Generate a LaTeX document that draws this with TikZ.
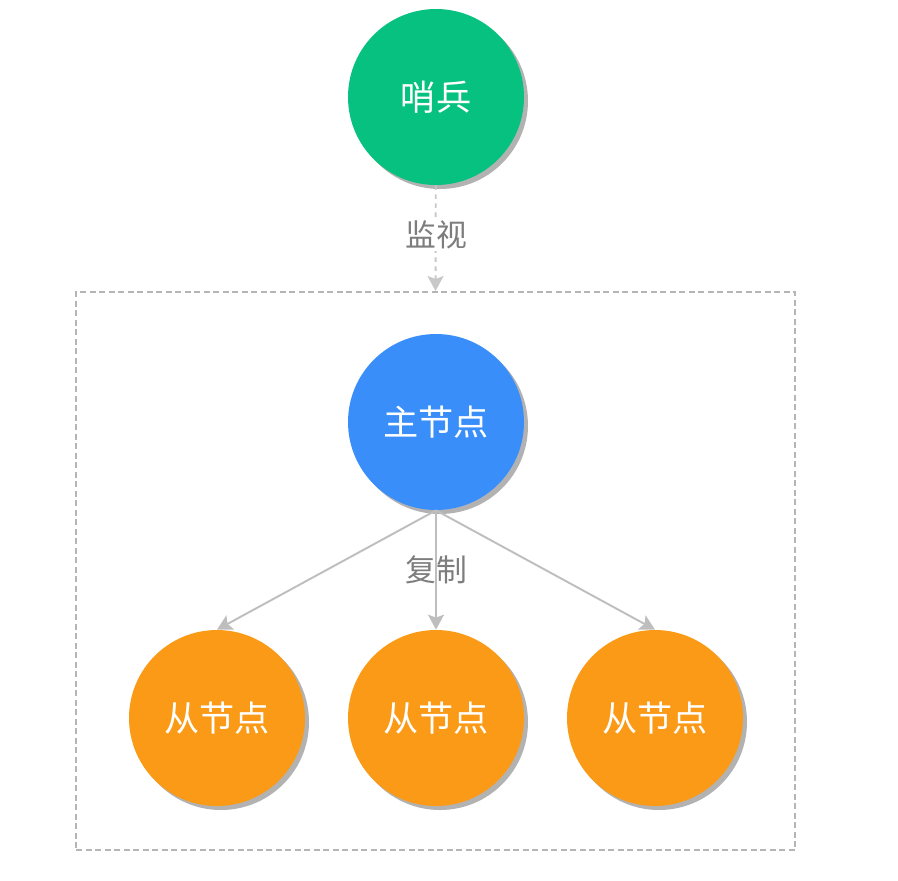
\documentclass[tikz,border=0pt]{standalone}
\usepackage{fontspec}
\setmainfont{Noto Sans CJK SC}
\usetikzlibrary{arrows.meta, positioning, shadows}
\definecolor{sentgreen}{RGB}{7,193,128}
\definecolor{masterblue}{RGB}{58,142,250}
\definecolor{slaveorange}{RGB}{250,154,22}
\definecolor{linegray}{RGB}{190,190,190}
\definecolor{labelgray}{RGB}{125,125,125}

\tikzset{
    rolenode/.style={circle, minimum size=3.52cm, inner sep=0pt, text=white,
        font=\fontsize{20}{24}\selectfont,
        drop shadow={shadow xshift=0.08cm, shadow yshift=-0.08cm, fill=black!30, opacity=1}},
    edgelabel/.style={text=labelgray, font=\fontsize{17.5}{20}\selectfont},
    arrowline/.style={draw=linegray, line width=1.1pt, -{Stealth[length=0.3cm, width=0.32cm, inset=0.06cm]}}
}

\begin{document}
\begin{tikzpicture}
        \useasboundingbox (0,0) rectangle (17.96,-17.6);

        % Sentinel
        \node[rolenode, fill=sentgreen] (sentinel) at (8.72,-1.94) {哨兵};

        % Group box
        \node[draw=linegray!85!gray, line width=1.1pt, dash pattern=on 0.12cm off 0.07cm,
              minimum width=14.38cm, minimum height=11.16cm] (group) at (8.71,-11.42) {};

        % Master
        \node[rolenode, fill=masterblue] (master) at (8.72,-8.44) {主节点};

        % Slaves
        \node[rolenode, fill=slaveorange] (slaveA) at (4.34,-14.36) {从节点};
        \node[rolenode, fill=slaveorange] (slaveB) at (8.72,-14.36) {从节点};
        \node[rolenode, fill=slaveorange] (slaveC) at (13.10,-14.36) {从节点};

        % Monitoring
        \draw[arrowline, draw=linegray!85, dash pattern=on 0.09cm off 0.09cm] (sentinel) -- (group.north);
        \node[edgelabel, fill=white, inner sep=1pt] (watch) at (8.72,-4.7) {监视};

        % Replication
        \draw[arrowline] (master.south) -- (slaveA.north);
        \draw[arrowline] (master.south) -- (slaveB.north);
        \draw[arrowline] (master.south) -- (slaveC.north);
        \node[edgelabel] (copy) at (8.72,-11.4) {复制};
    \end{tikzpicture}
\end{document}
